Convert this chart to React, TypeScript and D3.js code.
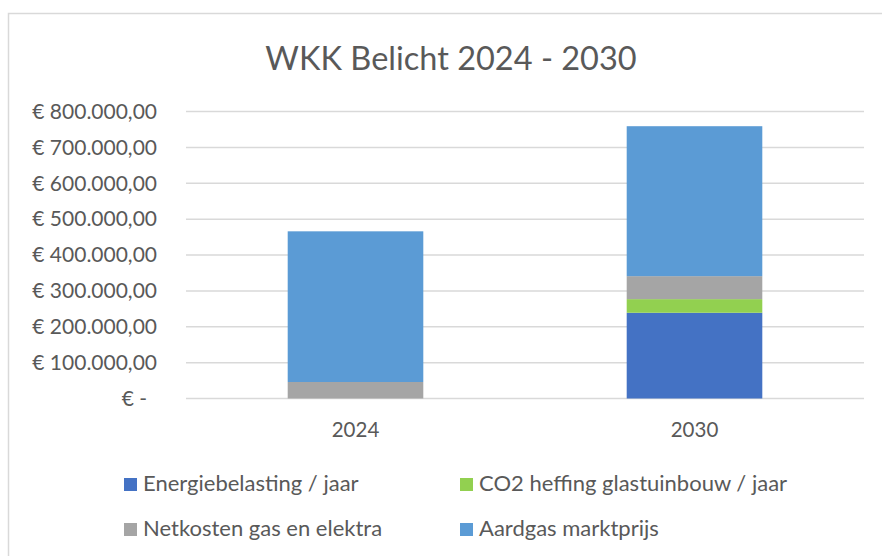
import React from 'react';
import * as d3 from 'd3';

const years = ['2024', '2030'];
const seriesNames = [
  'Energiebelasting / jaar',
  'CO2 heffing glastuinbouw / jaar',
  'Netkosten gas en elektra',
  'Aardgas marktprijs',
];
const energiebelasting = [0, 239000];
const co2Heffing = [0, 38000];
const netkosten = [46000, 64000];
const aardgas = [420000, 418000];
const yTicks = [0, 100000, 200000, 300000, 400000, 500000, 600000, 700000, 800000];

const colors = ['#4472C4', '#92D050', '#A5A5A5', '#5B9BD5'];
const font = 'Lato, "Open Sans", sans-serif';
const textColor = '#595959';

const fmt = (v: number) => {
  if (v === 0) return '€ -';
  const s = d3.format(',.2f')(v); // 800,000.00
  return '€ ' + s.replace(/,/g, '#').replace('.', ',').replace(/#/g, '.');
};

const App: React.FC = () => {
  const width = 882;
  const height = 556;
  const left = 186;
  const right = 864;
  const top = 111.5;
  const bottom = 398.5;

  const rows = years.map((y, i) => ({
    year: y,
    s0: energiebelasting[i],
    s1: co2Heffing[i],
    s2: netkosten[i],
    s3: aardgas[i],
  }));
  const stack = d3.stack<any>().keys(['s0', 's1', 's2', 's3']);
  const stacked = stack(rows);

  const x = d3.scaleBand().domain(years).range([left, right]).paddingInner(0.6).paddingOuter(0.3);
  const y = d3.scaleLinear().domain([0, 800000]).range([bottom, top]);

  const legend = seriesNames.map((name, i) => ({
    name,
    color: colors[i],
    lx: i % 2 === 0 ? 124 : 460,
    ly: i < 2 ? 491 : 536,
  }));

  return (
    <svg width={width} height={height} style={{ position: 'absolute', left: 0, top: 0 }}>
      <rect x={0} y={0} width={width} height={height} fill="#fff" />
      <rect x={8.5} y={13.5} width={width + 10} height={height + 10} fill="none" stroke="#d9d9d9" strokeWidth={1.5} />
      <text x={451} y={70} textAnchor="middle" fontFamily={font} fontSize={32.5} fill={textColor}>
        WKK Belicht 2024 - 2030
      </text>
      {yTicks.map((t) => (
        <g key={t}>
          <line x1={left} x2={right} y1={y(t)} y2={y(t)} stroke="#d9d9d9" strokeWidth={1.5} />
          <text
            x={t === 0 ? 147 : 157}
            y={y(t)}
            dy="0.35em"
            textAnchor="end"
            fontFamily={font}
            fontSize={21}
            fill={textColor}
          >
            {fmt(t)}
          </text>
        </g>
      ))}
      {stacked.map((layer, si) => (
        <g key={si} fill={colors[si]}>
          {layer.map((d, i) =>
            d[1] - d[0] > 0 ? (
              <rect
                key={i}
                x={x(years[i])}
                width={x.bandwidth()}
                y={y(d[1])}
                height={y(d[0]) - y(d[1])}
              />
            ) : null
          )}
        </g>
      ))}
      {years.map((yr) => (
        <text
          key={yr}
          x={(x(yr) as number) + x.bandwidth() / 2}
          y={437}
          textAnchor="middle"
          fontFamily={font}
          fontSize={20.5}
          fill={textColor}
        >
          {yr}
        </text>
      ))}
      {legend.map((l) => (
        <g key={l.name}>
          <rect x={l.lx} y={l.ly - 13} width={13} height={13} fill={l.color} />
          <text x={l.lx + 19} y={l.ly} fontFamily={font} fontSize={22} fill={textColor}>
            {l.name}
          </text>
        </g>
      ))}
    </svg>
  );
};

export default App;
